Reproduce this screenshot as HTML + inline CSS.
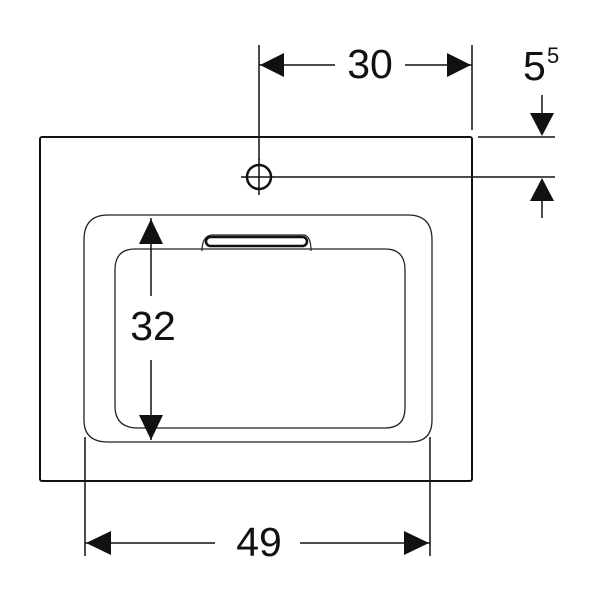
<!DOCTYPE html>
<html><head><style>body{margin:0;background:#fff}svg{display:block}</style></head><body>
<svg width="603" height="603" viewBox="0 0 603 603" xmlns="http://www.w3.org/2000/svg" font-family="Liberation Sans, sans-serif">
<rect x="40" y="137" width="432" height="344" fill="none" stroke="#111" stroke-width="2" rx="2"/>
<path d="M108 215 H408 Q432 215 432 240 V420 Q432 442 410 442 H108 Q84 442 84 420 V240 Q84 215 108 215 Z" fill="none" stroke="#222" stroke-width="1.3"/>
<path d="M135 249 H385 Q405 249 405 270 V408 Q405 428 385 428 H138 Q115 428 115 406 V270 Q115 249 135 249 Z" fill="none" stroke="#222" stroke-width="1.3"/>
<path d="M202 251 Q202 236 212 235 H304 Q311 236 311 251" fill="none" stroke="#222" stroke-width="1.2"/>
<rect x="206" y="237" width="101" height="9" rx="4.5" fill="none" stroke="#111" stroke-width="2.5"/>
<g stroke="#111" stroke-width="1.5" fill="none">
<line x1="259" y1="45" x2="259" y2="160"/>
<line x1="472" y1="45" x2="472" y2="130"/>
<line x1="259" y1="65" x2="335" y2="65"/><line x1="405" y1="65" x2="472" y2="65"/>
<line x1="478" y1="137" x2="555" y2="137"/>
<line x1="277" y1="177" x2="555" y2="177"/>
<line x1="542" y1="95" x2="542" y2="120"/>
<line x1="542" y1="195" x2="542" y2="218"/>
<line x1="151" y1="218" x2="151" y2="296"/><line x1="151" y1="360" x2="151" y2="440"/>
<line x1="85" y1="437" x2="85" y2="556"/><line x1="430" y1="437" x2="430" y2="556"/>
<line x1="85" y1="543" x2="215" y2="543"/><line x1="300" y1="543" x2="430" y2="543"/>
<line x1="241" y1="177" x2="277" y2="177"/>
<line x1="259" y1="159" x2="259" y2="195"/>
</g>
<circle cx="259" cy="177" r="12" fill="none" stroke="#111" stroke-width="2.5"/>
<g fill="#111">
<polygon points="260,65 284,53 284,77"/>
<polygon points="471,65 447,53 447,77"/>
<polygon points="542,136 530,113 554,113"/>
<polygon points="542,178 530,201 554,201"/>
<polygon points="151,219 139,244 163,244"/>
<polygon points="151,440 139,415 163,415"/>
<polygon points="86,543 111,531 111,555"/>
<polygon points="429,543 404,531 404,555"/>
</g>
<g fill="#111" font-size="41">
<text x="370" y="78" text-anchor="middle">30</text>
<text x="153" y="340" text-anchor="middle">32</text>
<text x="259" y="556" text-anchor="middle">49</text>
<text x="523" y="80">5</text>
<text x="547" y="63" font-size="22">5</text>
</g>
</svg>
</body></html>
